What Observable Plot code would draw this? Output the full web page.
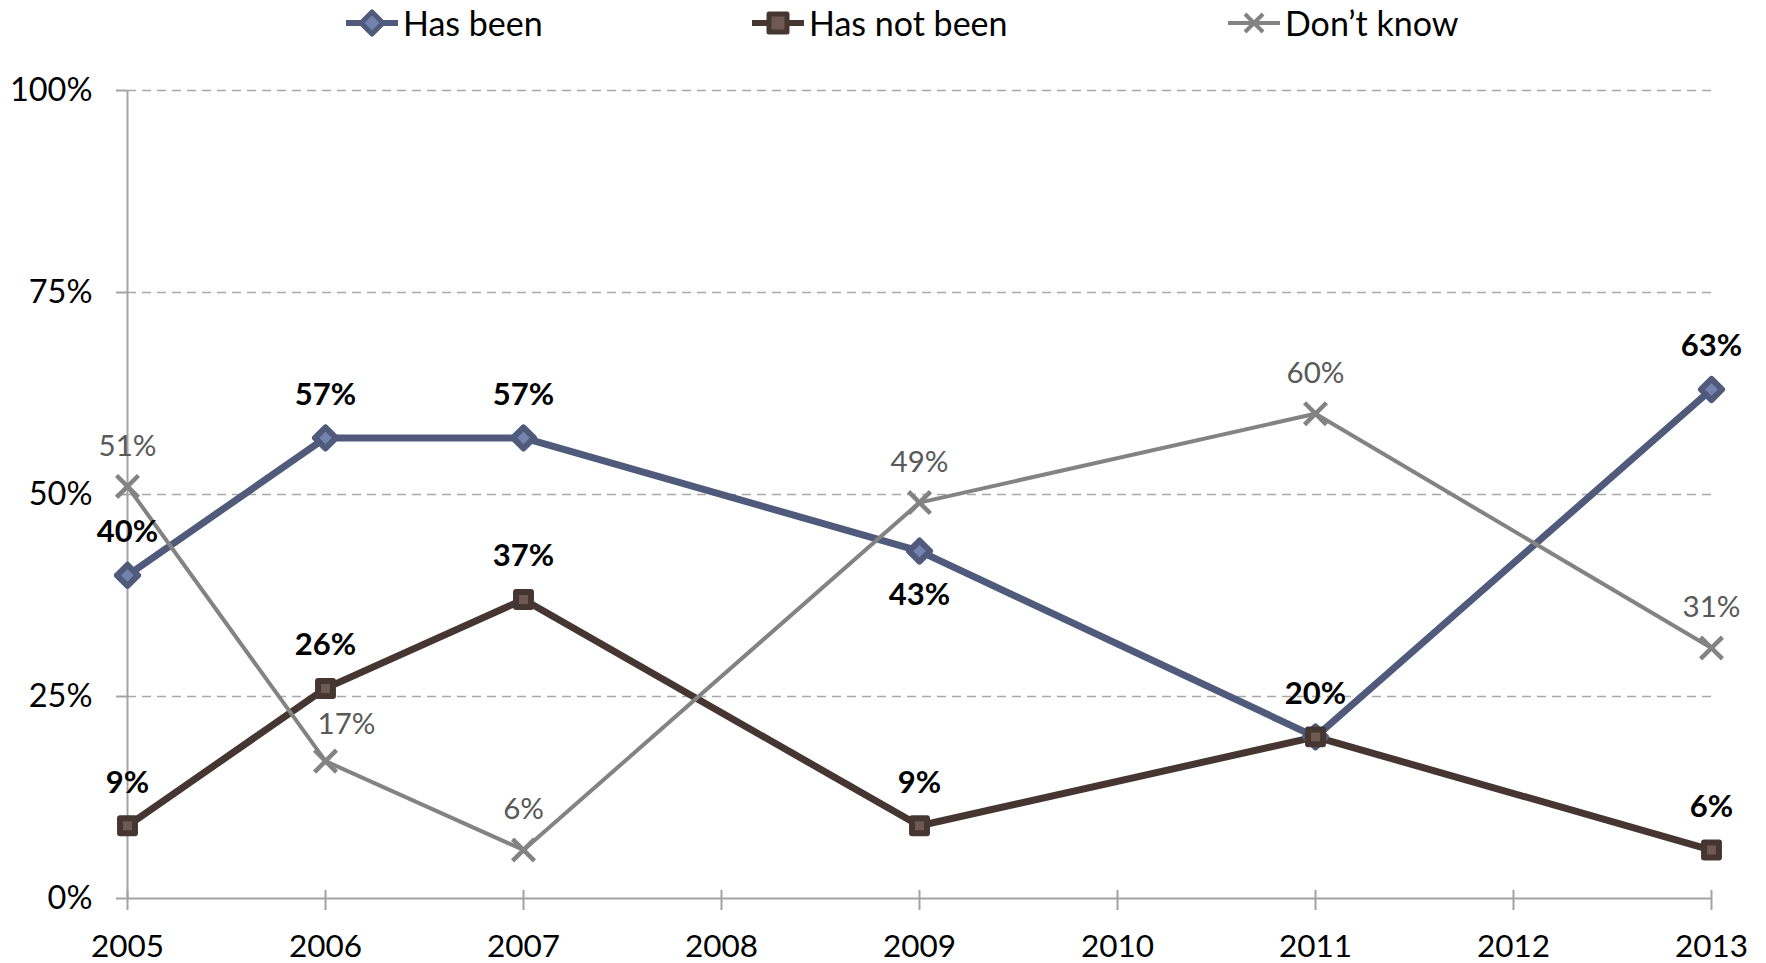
<!DOCTYPE html>
<html>
<head>
<meta charset="utf-8">
<script src="https://cdn.jsdelivr.net/npm/d3@7"></script>
<script src="https://cdn.jsdelivr.net/npm/@observablehq/plot@0.6"></script>
<style>
  body { margin: 0; background: white; font-family: Lato, "Open Sans", sans-serif; }
  #legend { position: relative; height: 45px; width: 1766px; }
  .item { position: absolute; top: 0; height: 45px; display: flex; align-items: center; font-size: 34px; color: #000; }
  .item svg { margin-right: 5px; }
</style>
</head>
<body>
<div id="legend"></div>
<div id="chart"></div>
<script>
const years = [2005, 2006, 2007, 2009, 2011, 2013];
const hasBeen = [0.40, 0.57, 0.57, 0.43, 0.20, 0.63];
const hasNotBeen = [0.09, 0.26, 0.37, 0.09, 0.20, 0.06];
const dontKnow = [0.51, 0.17, 0.06, 0.49, 0.60, 0.31];
const axisYears = [2005, 2006, 2007, 2008, 2009, 2010, 2011, 2012, 2013];
const yTicks = [0, 0.25, 0.5, 0.75, 1];
const gridTicks = [0.25, 0.5, 0.75, 1];
const seriesNames = ["Has been", "Has not been", "Don\u2019t know"];

const colors = {
  "Has been": {line: "#505A7B", fill: "#7482B0"},
  "Has not been": {line: "#463631", fill: "#6E5A53"},
  "Don\u2019t know": {line: "#838383", fill: "#838383"}
};

const rows = (name, vals) => years.map((y, i) => ({series: name, year: y, value: vals[i]}));
const hb = rows(seriesNames[0], hasBeen);
const hnb = rows(seriesNames[1], hasNotBeen);
const dk = rows(seriesNames[2], dontKnow);

const pct = d3.format(".0%");

// Legend
const legend = document.getElementById("legend");
const legendLeft = [346, 752, 1228];
seriesNames.forEach((name, i) => {
  const c = colors[name];
  const div = document.createElement("div");
  div.className = "item";
  div.style.left = legendLeft[i] + "px";
  let marker;
  if (i === 0) {
    marker = `<line x1="0" y1="15" x2="52" y2="15" stroke="${c.line}" stroke-width="6"/>
      <path d="M26,4 L37,15 L26,26 L15,15 Z" fill="${c.fill}" stroke="${c.line}" stroke-width="5" stroke-linejoin="round"/>`;
  } else if (i === 1) {
    marker = `<line x1="0" y1="15" x2="52" y2="15" stroke="${c.line}" stroke-width="6"/>
      <rect x="17" y="6" width="18" height="18" fill="${c.fill}" stroke="${c.line}" stroke-width="5" stroke-linejoin="round"/>`;
  } else {
    marker = `<line x1="0" y1="15" x2="52" y2="15" stroke="${c.line}" stroke-width="4"/>
      <path d="M17,6 L35,24 M35,6 L17,24" stroke="${c.line}" stroke-width="4"/>`;
  }
  div.innerHTML = `<svg width="52" height="30">${marker}</svg><span>${name}</span>`;
  legend.appendChild(div);
});

const boldLabel = (data, dyFn) => Plot.text(data, {
  x: "year", y: "value", text: d => pct(d.value),
  dy: dyFn, fontWeight: 700, fontSize: 31, fill: "#000"
});

const chart = Plot.plot({
  width: 1766,
  height: 918,
  marginTop: 45,
  marginBottom: 65,
  marginLeft: 127,
  marginRight: 55,
  style: {fontFamily: "Lato, 'Open Sans', sans-serif", fontSize: "32px", background: "white", color: "#000"},
  x: {domain: [2005, 2013]},
  y: {domain: [0, 1]},
  marks: [
    Plot.ruleY(gridTicks, {x1: 2005, x2: 2013, stroke: "#A8A8A8", strokeWidth: 1.6, strokeDasharray: "9,6"}),
    Plot.ruleX([2005], {stroke: "#A3A3A3", strokeWidth: 2}),
    Plot.ruleY([0], {x1: 2005, x2: 2013, stroke: "#A3A3A3", strokeWidth: 2}),
    Plot.ruleX(axisYears, {y1: 0, y2: 0.01, stroke: "#A3A3A3", strokeWidth: 2}),
    Plot.axisY({ticks: yTicks, tickFormat: pct, tickSize: 11, tickPadding: 24, stroke: "#A3A3A3", strokeWidth: 2, fill: "#000", label: null, fontSize: 32.5}),
    Plot.axisX({ticks: axisYears, tickFormat: d => String(d), tickSize: 12, tickPadding: 24, stroke: "#A3A3A3", strokeWidth: 2, fill: "#000", label: null, fontSize: 31.5}),
    // lines
    Plot.line(hb, {x: "year", y: "value", stroke: colors["Has been"].line, strokeWidth: 7}),
    Plot.line(hnb, {x: "year", y: "value", stroke: colors["Has not been"].line, strokeWidth: 7}),
    Plot.line(dk, {x: "year", y: "value", stroke: colors["Don\u2019t know"].line, strokeWidth: 4}),
    // markers
    Plot.dot(hb, {x: "year", y: "value", symbol: "diamond2", r: 9.5, fill: colors["Has been"].fill, stroke: colors["Has been"].line, strokeWidth: 6, strokeLinejoin: "round"}),
    Plot.dot(hnb, {x: "year", y: "value", symbol: "square2", r: 9.5, fill: colors["Has not been"].fill, stroke: colors["Has not been"].line, strokeWidth: 6, strokeLinejoin: "round"}),
    Plot.dot(dk, {x: "year", y: "value", symbol: "times", r: 10, stroke: colors["Don\u2019t know"].line, strokeWidth: 4.5}),
    // labels
    boldLabel(hb.filter(d => d.year !== 2011 && d.year !== 2009), -43),
    boldLabel(hb.filter(d => d.year === 2009), 44),
    boldLabel(hnb, -43),
    Plot.text(dk.filter(d => d.year !== 2006), {x: "year", y: "value", text: d => pct(d.value), dy: -40, fontSize: 29.5, fill: "#595959"}),
    Plot.text(dk.filter(d => d.year === 2006), {x: "year", y: "value", text: d => pct(d.value), dy: -37, dx: 21, fontSize: 29.5, fill: "#595959"})
  ]
});
document.getElementById("chart").appendChild(chart);
</script>
</body>
</html>
